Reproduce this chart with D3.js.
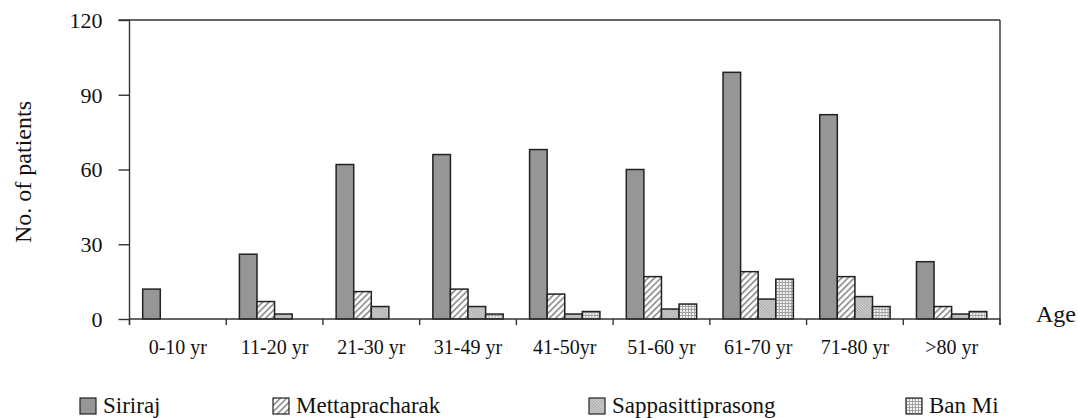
<!DOCTYPE html>
<html>
<head>
<meta charset="utf-8">
<script src="https://cdn.jsdelivr.net/npm/d3@7"></script>
<style>
  html, body { margin: 0; padding: 0; background: #fff; }
  svg { display: block; }
  text { font-family: "Liberation Serif", "Times New Roman", "DejaVu Serif", serif !important; }
</style>
</head>
<body>
<svg id="chart" width="1078" height="418"></svg>
<script>
// ---- data ----
const categories = ["0-10 yr", "11-20 yr", "21-30 yr", "31-49 yr", "41-50yr", "51-60 yr", "61-70 yr", "71-80 yr", ">80 yr"];
const seriesNames = ["Siriraj", "Mettapracharak", "Sappasittiprasong", "Ban Mi"];
const siriraj        = [12, 26, 62, 66, 68, 60, 99, 82, 23];
const mettapracharak = [0, 7, 11, 12, 10, 17, 19, 17, 5];
const sappasittiprasong = [0, 2, 5, 5, 2, 4, 8, 9, 2];
const banMi          = [0, 0, 0, 2, 3, 6, 16, 5, 3];
const yTicks = [0, 30, 60, 90, 120];
const yTitle = "No. of patients";
const xTitle = "Age";

const seriesValues = [siriraj, mettapracharak, sappasittiprasong, banMi];

// ---- layout ----
const FONT = "Liberation Serif, Times New Roman, DejaVu Serif, serif";
const svg = d3.select("#chart").attr("font-family", FONT);
const pLeft = 129.5, pRight = 1000, pTop = 20, pBottom = 319;
const lineColor = "#333";

const defs = svg.append("defs");
// Mettapracharak: diagonal hatch
const p1 = defs.append("pattern").attr("id", "pMetta").attr("patternUnits", "userSpaceOnUse")
  .attr("width", 4.5).attr("height", 4.5).attr("patternTransform", "rotate(45)");
p1.append("rect").attr("width", 4.5).attr("height", 4.5).attr("fill", "#fff");
p1.append("rect").attr("width", 1.6).attr("height", 4.5).attr("fill", "#8a8a8a");
// Sappasittiprasong: dense fine texture
const p2 = defs.append("pattern").attr("id", "pSappa").attr("patternUnits", "userSpaceOnUse")
  .attr("width", 2).attr("height", 2).attr("patternTransform", "rotate(-45)");
p2.append("rect").attr("width", 2).attr("height", 2).attr("fill", "#d4d4d4");
p2.append("rect").attr("width", 1).attr("height", 2).attr("fill", "#a8a8a8");
// Ban Mi: small grid
const p3 = defs.append("pattern").attr("id", "pBan").attr("patternUnits", "userSpaceOnUse")
  .attr("width", 3).attr("height", 3);
p3.append("rect").attr("width", 3).attr("height", 3).attr("fill", "#f4f4f4");
p3.append("rect").attr("width", 1).attr("height", 3).attr("fill", "#a0a0a0");
p3.append("rect").attr("width", 3).attr("height", 1).attr("fill", "#a0a0a0");

const fills = ["#969696", "url(#pMetta)", "url(#pSappa)", "url(#pBan)"];

const x0 = d3.scaleBand().domain(categories).range([pLeft, pRight]).paddingInner(0).paddingOuter(0);
const x1 = d3.scaleBand().domain(seriesNames).range([0, x0.bandwidth()]).paddingInner(0).paddingOuter(0.75);
const y = d3.scaleLinear().domain([0, 120]).range([pBottom, pTop]);

// plot frame: top and right lines
svg.append("line").attr("x1", pLeft).attr("x2", pRight).attr("y1", y(120)).attr("y2", y(120))
  .attr("stroke", lineColor).attr("stroke-width", 1.4);
svg.append("line").attr("x1", pRight).attr("x2", pRight).attr("y1", y(120)).attr("y2", pBottom + 6)
  .attr("stroke", lineColor).attr("stroke-width", 1.4);

// y axis
const yAxis = d3.axisLeft(y).tickValues(yTicks).tickSize(11).tickPadding(16).tickFormat(d3.format("d"));
const gy = svg.append("g").attr("transform", `translate(${pLeft},0)`).call(yAxis).attr("font-family", FONT);
gy.select(".domain").attr("stroke", lineColor).attr("stroke-width", 1.4).attr("d", `M-11,${pTop}H0V${pBottom + 6}`);
gy.selectAll(".tick line").attr("stroke", lineColor).attr("stroke-width", 1.4);
gy.selectAll(".tick text").attr("font-size", 22).attr("fill", "#111")
  .attr("font-family", FONT).attr("dy", "0.34em");

// bars
const groups = svg.append("g").selectAll("g").data(categories).join("g")
  .attr("transform", d => `translate(${x0(d)},0)`);
groups.selectAll("rect")
  .data((c, i) => seriesNames.map((s, k) => ({ s, k, v: seriesValues[k][i] })).filter(d => d.v > 0))
  .join("rect")
  .attr("x", d => x1(d.s))
  .attr("width", x1.bandwidth())
  .attr("y", d => y(d.v))
  .attr("height", d => y(0) - y(d.v))
  .attr("fill", d => fills[d.k])
  .attr("stroke", "#222")
  .attr("stroke-width", 1.5);

// x axis
const xAxisG = svg.append("g");
xAxisG.append("line").attr("x1", pLeft).attr("x2", pRight).attr("y1", pBottom).attr("y2", pBottom)
  .attr("stroke", lineColor).attr("stroke-width", 1.4);
const boundaries = categories.map(c => x0(c)).concat([pRight]);
xAxisG.selectAll("line.tk").data(boundaries).join("line").attr("class", "tk")
  .attr("x1", d => d).attr("x2", d => d).attr("y1", pBottom).attr("y2", pBottom + 6)
  .attr("stroke", lineColor).attr("stroke-width", 1.4);
xAxisG.selectAll("text").data(categories).join("text")
  .attr("x", d => x0(d) + x0.bandwidth() / 2)
  .attr("y", 354)
  .attr("text-anchor", "middle")
  .attr("font-family", FONT)
  .attr("font-size", 20)
  .attr("fill", "#111")
  .text(d => d);

// axis titles
svg.append("text").attr("transform", "translate(31,172) rotate(-90)")
  .attr("text-anchor", "middle").attr("font-family", FONT).attr("font-size", 24).attr("fill", "#111").text(yTitle);
svg.append("text").attr("x", 1036).attr("y", 322).attr("font-family", FONT).attr("font-size", 24).attr("fill", "#111").text(xTitle);

// legend
const legendX = [80, 273, 589, 906];
const lg = svg.append("g").selectAll("g").data(seriesNames).join("g")
  .attr("transform", (d, i) => `translate(${legendX[i]},398)`);
lg.append("rect").attr("width", 16).attr("height", 16)
  .attr("fill", (d, i) => fills[i]).attr("stroke", "#222").attr("stroke-width", 1.2);
lg.append("text").attr("x", 23).attr("y", 15).attr("font-family", FONT).attr("font-size", 23).attr("fill", "#111").text(d => d);
</script>
</body>
</html>
